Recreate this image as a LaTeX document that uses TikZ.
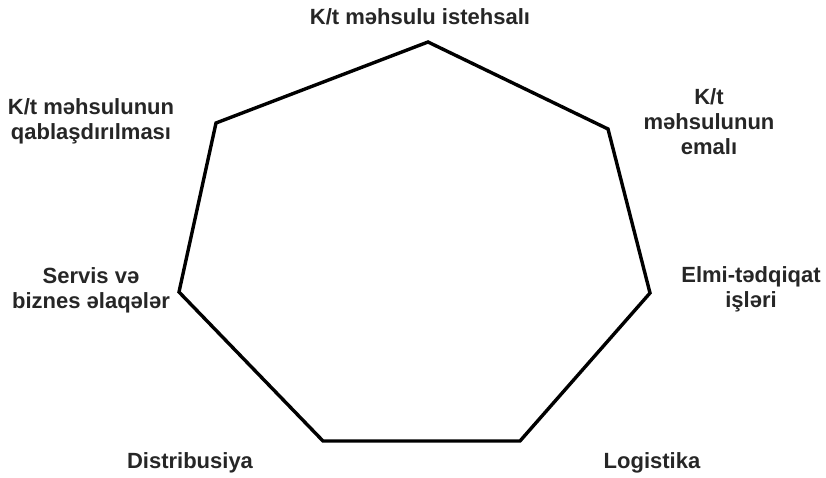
\documentclass[tikz,border=0pt]{standalone}
\usepackage{fontspec}
\setmainfont{Liberation Sans}
\begin{document}
\begin{tikzpicture}[x=1pt,y=-1pt,
  lbl/.style={font=\fontsize{22}{25}\selectfont\bfseries, align=center, inner sep=0pt, text=black!85},
  edge/.style={line width=3.4pt, line join=miter, black}]
\useasboundingbox (0,0) rectangle (826,477);
\coordinate (v1) at (428,42);
\coordinate (v2) at (608,129);
\coordinate (v3) at (650,293);
\coordinate (v4) at (520,441);
\coordinate (v5) at (323,441);
\coordinate (v6) at (179,292);
\coordinate (v7) at (216,123);
\draw[edge] (v1) -- (v2) -- (v3) -- (v4) -- (v5) -- (v6) -- (v7) -- cycle;
\node[lbl] (t1) at (420,17) {K/t məhsulu istehsalı};
\node[lbl] (t2) at (709,122) {K/t\\məhsulunun\\emalı};
\node[lbl] (t3) at (751,289) {Elmi-tədqiqat\\işləri};
\node[lbl] (t4) at (652,463) {Logistika};
\node[lbl] (t5) at (190,463) {Distribusiya};
\node[lbl] (t6) at (91,290) {Servis və\\biznes əlaqələr};
\node[lbl] (t7) at (91,121) {K/t məhsulunun\\qablaşdırılması};
\end{tikzpicture}
\end{document}
